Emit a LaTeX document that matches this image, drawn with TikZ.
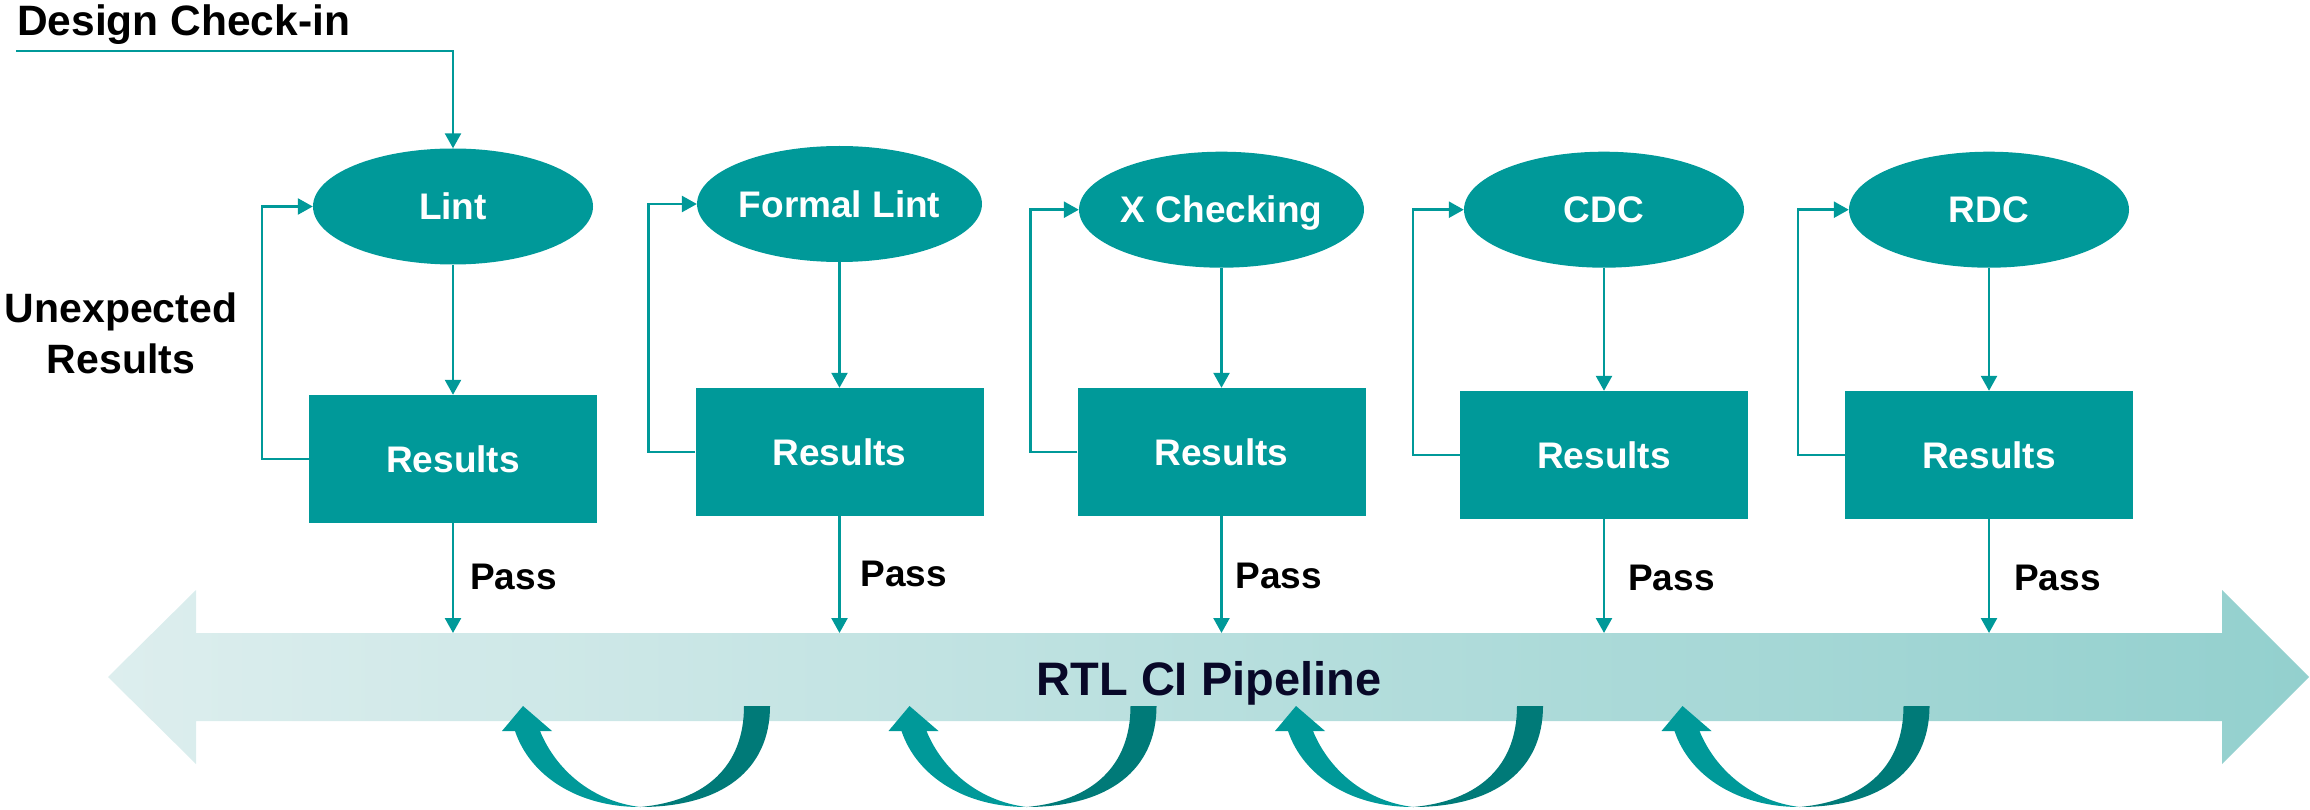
\documentclass[tikz,border=0pt]{standalone}
\usepackage{fontspec}
\setmainfont{Liberation Sans}
\usetikzlibrary{arrows.meta,shapes.geometric}
\definecolor{ciTeal}{RGB}{0,153,153}
\definecolor{ciDark}{RGB}{0,122,120}
\definecolor{bandL}{RGB}{221,238,238}
\definecolor{bandR}{RGB}{147,208,206}
\definecolor{ciNavy}{RGB}{8,8,40}
\begin{document}
\begin{tikzpicture}[x=1pt,y=-1pt,
  flow/.style={draw=ciTeal,line width=2.5pt,-{Triangle[width=16pt,length=15pt]}},
  lbl/.style={inner sep=0pt,text height=26.5pt,text depth=0pt,font=\fontsize{37}{44}\selectfont\bfseries},
  stage/.style={lbl,ellipse,fill=ciTeal,text=white,minimum width=280pt,minimum height=116pt},
  result/.style={lbl,rectangle,fill=ciTeal,text=white,minimum width=288pt,minimum height=128pt},
  passlbl/.style={lbl,anchor=west},
  bigtxt/.style={inner sep=0pt,font=\fontsize{41}{51}\selectfont\bfseries}
]
\useasboundingbox (0,0) rectangle (2310,810);

% pipeline band with arrow heads at both ends
\shade[left color=bandL,right color=bandR]
  (108,677) -- (196,590) -- (196,633) -- (2222,633) -- (2222,590) -- (2309,677)
  -- (2222,764) -- (2222,721) -- (196,721) -- (196,764) -- cycle;
\node[inner sep=0pt,text height=33.5pt,text depth=0pt,text=ciNavy,
      font=\fontsize{47}{56}\selectfont\bfseries] (pipe) at (1209,679) {RTL CI Pipeline};
\coordinate (bandtop) at (0,633);

% check stages: tool, results, loop back, pass into the pipeline
\foreach \i/\x/\ey/\ry/\py/\po/\name in {
    1/453/206.5/459/576/17/Lint,
    2/839.5/204/452/573/21/Formal Lint,
    3/1221.5/209.7/452/575.5/14/X Checking,
    4/1604/209.7/455/577/24/CDC,
    5/1989/209.7/455/577/25/RDC}{
  \node[stage]  (e\i) at (\x,\ey) {\name};
  \node[result] (r\i) at (\x,\ry) {Results};
  \draw[flow] (e\i.south) -- (r\i.north);
  \draw[flow] (r\i.west) -- ++(-47,0) |- (e\i.west);
  \draw[flow] (r\i.south) -- (r\i.south |- bandtop);
  \node[passlbl] (p\i) at (\x+\po,\py) {Pass};
}

% design entry
\node[bigtxt,anchor=west,text height=30pt,text depth=0pt,
      font=\fontsize{42.5}{51}\selectfont\bfseries] (din) at (17,21) {Design Check-in};
\coordinate (dstart) at (16,51);
\draw[flow] (dstart) -| (e1.north);

\node[bigtxt,align=center] (unexp) at (121,333.5) {Unexpected\\Results};

% curved hand-over arrows under the pipeline
\foreach \k in {0,1,2,3}{
  \begin{scope}[shift={(386.5*\k,0)}]
    \fill[ciDark] (744,706) -- (770,706) .. controls (770,770) and (722,807) .. (640,807)
      .. controls (706,801) and (744,766) .. (744,706) -- cycle;
    \fill[ciTeal] (640,807) .. controls (578,807) and (530,776) .. (515,731)
      -- (502,731) -- (523,706) -- (552,731) -- (540,731)
      .. controls (556,770) and (592,801) .. (640,807) -- cycle;
  \end{scope}
}
\end{tikzpicture}
\end{document}
